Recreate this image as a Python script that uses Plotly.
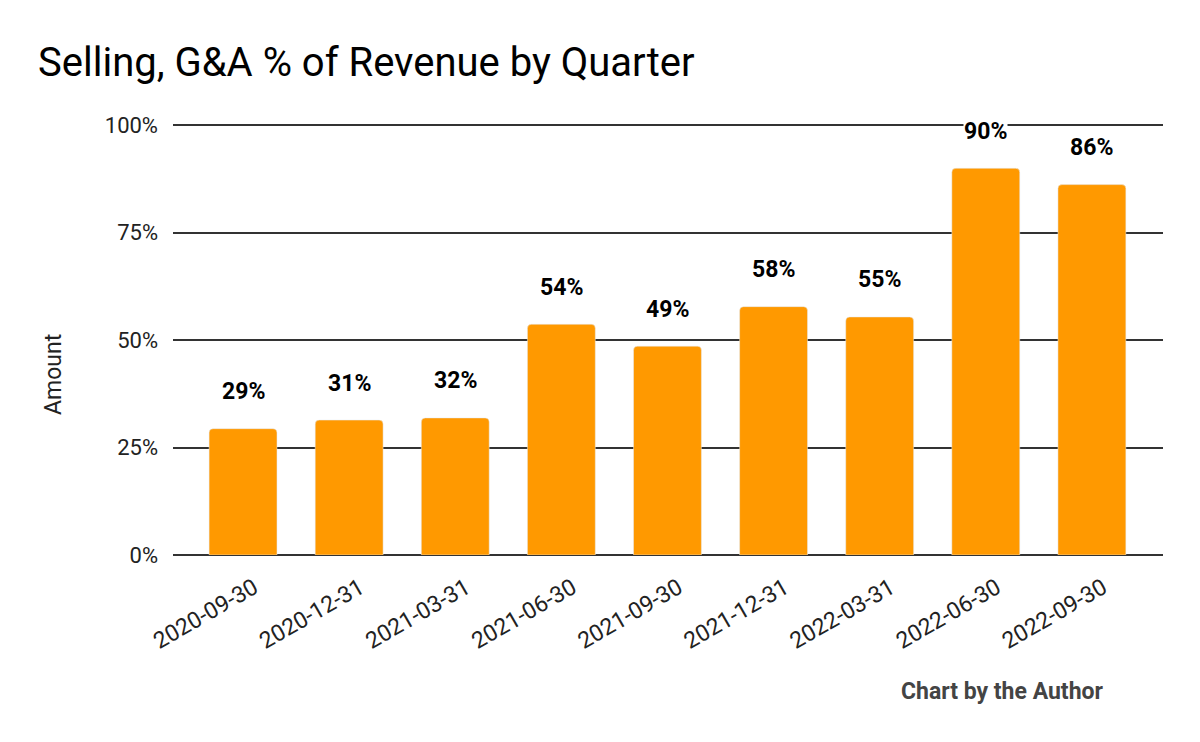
import plotly.graph_objects as go

quarters = ["2020-09-30", "2020-12-31", "2021-03-31", "2021-06-30", "2021-09-30",
            "2021-12-31", "2022-03-31", "2022-06-30", "2022-09-30"]
sga_pct = [0.294, 0.314, 0.319, 0.537, 0.486, 0.578, 0.554, 0.900, 0.862]
y_ticks = [0, 0.25, 0.5, 0.75, 1.0]
y_tick_labels = ["0%", "25%", "50%", "75%", "100%"]

W, H = 1200, 742
L, R, T, B = 173, 37, 121, 187
plot_h = H - T - B
plot_w = W - L - R
y_max = 1.01

def px_to_paper(xp, yp):
    return (xp - L) / plot_w, (H - B - yp) / plot_h

fig = go.Figure()
fig.add_trace(go.Bar(
    x=list(range(len(quarters))), y=sga_pct,
    marker=dict(color="#FF9900", cornerradius=4),
    width=0.64, hoverinfo="skip",
))

for i, v in enumerate(sga_pct):
    fig.add_annotation(
        x=i, y=v, text=f"<b>{v:.0%}</b>", showarrow=False,
        yanchor="middle", yshift=37, bgcolor="white", borderpad=0,
        font=dict(family="Roboto", size=23, color="#000000"),
    )

cx, cy = px_to_paper(1105, 691)
fig.add_annotation(
    xref="paper", yref="paper", x=cx, y=cy,
    xanchor="right", yanchor="middle", text="<b>Chart by the Author</b>",
    showarrow=False, font=dict(family="Roboto", size=23, color="#444444"),
)

ax_, ay_ = px_to_paper(53, 375)
fig.add_annotation(
    xref="paper", yref="paper", x=ax_, y=ay_, xanchor="center", yanchor="middle",
    text="Amount", textangle=-90, showarrow=False,
    font=dict(family="Roboto", size=23, color="#222222"),
)

fig.update_layout(
    width=W, height=H,
    margin=dict(l=L, r=R, t=T, b=B),
    paper_bgcolor="white", plot_bgcolor="white",
    font=dict(family="Roboto", color="#222222"),
    title=dict(text="Selling, G&A % of Revenue by Quarter", x=38 / W, xanchor="left",
               y=1 - 62 / H, yanchor="middle",
               font=dict(family="Roboto", size=40, color="#000000")),
    showlegend=False,
    xaxis=dict(
        tickmode="array", tickvals=list(range(len(quarters))), ticktext=quarters,
        range=[-0.66, 8.67], tickangle=-30, showgrid=False, showline=False,
        zeroline=False, ticks="", ticklabelshift=11, ticklabelstandoff=14,
        tickfont=dict(family="Roboto", size=23, color="#222222"),
    ),
    yaxis=dict(
        range=[0, y_max], tickmode="array", tickvals=y_ticks, ticktext=y_tick_labels,
        showgrid=True, gridcolor="#333333", gridwidth=2, zeroline=True,
        zerolinecolor="#333333", zerolinewidth=2, showline=False, ticks="",
        ticklabelstandoff=14,
        tickfont=dict(family="Roboto", size=22, color="#222222"),
    ),
)

fig.write_html("out.html", config={"displayModeBar": False},
               post_script="document.body.style.margin='0';")
